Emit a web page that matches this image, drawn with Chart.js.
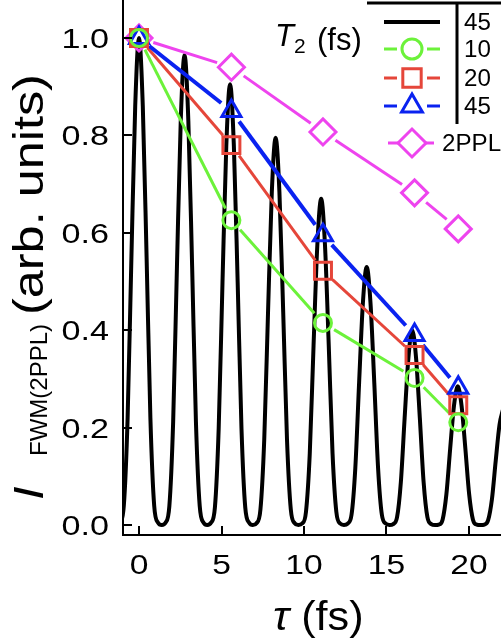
<!DOCTYPE html>
<html><head><meta charset="utf-8">
<script src="https://cdn.jsdelivr.net/npm/chart.js@4/dist/chart.umd.min.js"></script>
<style>html,body{margin:0;padding:0;background:#fff;}canvas{display:block;}</style>
</head><body>
<canvas id="c" width="501" height="640"></canvas>
<script>
// ---- data ----
const curveTau = [-1.38,-1.15,-0.92,-0.69,-0.46,-0.23,0,0.23,0.46,0.69,0.92,1.15,1.38,
1.61,1.84,2.07,2.30,2.53,2.76,2.99,3.22,3.45,3.68,3.91,4.14,
4.37,4.60,4.83,5.06,5.29,5.52,5.75,5.98,6.21,6.44,6.67,6.90,
7.13,7.36,7.59,7.82,8.05,8.28,8.51,8.74,8.97,9.20,9.43,9.66,
9.89,10.12,10.35,10.58,10.81,11.04,11.27,11.50,11.73,11.96,12.19,12.42,
12.65,12.88,13.11,13.34,13.57,13.80,14.03,14.26,14.49,14.72,14.95,15.18,
15.41,15.64,15.87,16.10,16.33,16.56,16.79,17.02,17.25,17.48,17.71,17.94,
18.17,18.40,18.63,18.86,19.09,19.32,19.55,19.78,20.01,20.24,20.47,20.70,
20.93,21.16,21.39,21.62,21.85,22.08];
const curveT45 = [0,0.005,0.04,0.22,0.55,0.86,1.0,0.86,0.55,0.22,0.04,0.005,0,
0.005,0.039,0.212,0.531,0.830,0.965,0.830,0.531,0.212,0.039,0.005,0,
0.005,0.036,0.199,0.498,0.778,0.905,0.778,0.498,0.199,0.036,0.005,0,
0.004,0.032,0.175,0.437,0.684,0.795,0.684,0.437,0.175,0.032,0.004,0,
0.003,0.027,0.147,0.369,0.576,0.67,0.576,0.369,0.147,0.027,0.003,0,
0.003,0.021,0.117,0.292,0.456,0.53,0.456,0.292,0.117,0.021,0.003,0,
0.002,0.016,0.088,0.22,0.344,0.40,0.344,0.22,0.088,0.016,0.002,0,
0.001,0.011,0.063,0.157,0.245,0.285,0.245,0.157,0.063,0.011,0.001,0,
0.001,0.010,0.053,0.132,0.206,0.24];
const tauPts = [0, 5.6, 11.15, 16.7, 19.35];
const fit10 = [1.0, 0.626, 0.415, 0.302, 0.211];
const fit20 = [1.0, 0.78, 0.522, 0.349, 0.246];
const fit45 = [1.0, 0.85, 0.595, 0.39, 0.282];
const ppl2  = [1.0, 0.94, 0.807, 0.682, 0.608];
const xTicks = [0, 5, 10, 15, 20];
const yTicks = [0, 0.2, 0.4, 0.6, 0.8, 1.0];
const seriesLabels = ['45', '10', '20', '45', '2PPL'];

// ---- styles ----
const FONT = '"Liberation Sans", Arial, sans-serif';
const COL = ['#000000', '#6CF23A', '#E5463A', '#0A22F0', '#EE44EE'];
const STYLE = [null, 'circle', 'rect', 'triangle', 'rectRot'];
const RAD = [0, 8.5, 12, 11, 13];
const LRAD = [0, 10, 13, 12, 14];
const GAP = [0, 13, 13, 13, 15];
const LW = [4, 3, 3, 4, 3];

const pts = (xs, ys) => xs.map((x, i) => ({x: x, y: ys[i]}));
const markerSet = (i, ys) => ({
  label: seriesLabels[i], data: pts(tauPts, ys), showLine: false,
  pointStyle: STYLE[i], pointRadius: RAD[i], pointHoverRadius: RAD[i],
  pointBorderWidth: 3, pointBorderColor: COL[i], borderColor: COL[i],
  pointBackgroundColor: 'rgba(0,0,0,0)', backgroundColor: 'rgba(0,0,0,0)',
  gap: GAP[i], order: i
});

function drawMarker(ctx, style, r, x, y, color) {
  ctx.save();
  ctx.strokeStyle = color; ctx.fillStyle = 'rgba(0,0,0,0)'; ctx.lineWidth = 3;
  if (Chart.helpers && Chart.helpers.drawPoint) {
    Chart.helpers.drawPoint(ctx, {pointStyle: style, radius: r, rotation: 0, borderWidth: 3}, x, y);
  }
  ctx.restore();
}
function sText(ctx, text, x, y, font, sx, align) {
  ctx.save();
  ctx.font = font; ctx.textAlign = align || 'left'; ctx.textBaseline = 'alphabetic';
  ctx.translate(x, y); ctx.scale(sx, 1);
  ctx.fillText(text, 0, 0);
  const w = ctx.measureText(text).width * sx;
  ctx.restore();
  return w;
}

const decor = {
  id: 'decor',
  afterDatasetDraw(chart, args) {
    if (args.index !== 0) return;
    const ctx = chart.ctx, ca = chart.chartArea;
    ctx.save();
    ctx.beginPath();
    ctx.rect(ca.left, ca.top, ca.right - ca.left, ca.bottom - ca.top);
    ctx.clip();
    for (let i = 1; i < chart.data.datasets.length; i++) {
      const ds = chart.data.datasets[i];
      const el = chart.getDatasetMeta(i).data;
      ctx.strokeStyle = COL[i]; ctx.lineWidth = LW[i]; ctx.lineCap = 'butt';
      for (let j = 0; j < el.length - 1; j++) {
        const a = el[j], b = el[j + 1];
        const dx = b.x - a.x, dy = b.y - a.y, d = Math.hypot(dx, dy);
        if (d <= 2 * ds.gap) continue;
        const ux = dx / d, uy = dy / d;
        ctx.beginPath();
        ctx.moveTo(a.x + ux * ds.gap, a.y + uy * ds.gap);
        ctx.lineTo(b.x - ux * ds.gap, b.y - uy * ds.gap);
        ctx.stroke();
      }
    }
    ctx.restore();
  },
  afterDraw(chart) {
    const ctx = chart.ctx, ca = chart.chartArea;
    const xs = chart.scales.x, ys = chart.scales.y;
    ctx.save();
    ctx.strokeStyle = '#000'; ctx.lineWidth = 2;
    // axes
    ctx.beginPath();
    ctx.moveTo(ca.left, 0); ctx.lineTo(ca.left, ca.bottom); ctx.lineTo(ca.right, ca.bottom);
    ctx.stroke();
    // inward ticks
    ctx.beginPath();
    xTicks.forEach(v => { const px = Math.round(xs.getPixelForValue(v)); ctx.moveTo(px, ca.bottom); ctx.lineTo(px, ca.bottom - 9); });
    yTicks.forEach(v => { const py = Math.round(ys.getPixelForValue(v)); ctx.moveTo(ca.left, py); ctx.lineTo(ca.left + 9, py); });
    ctx.stroke();

    ctx.fillStyle = '#000';
    // tick labels
    const TF = '28px ' + FONT;
    xTicks.forEach(v => sText(ctx, String(v), xs.getPixelForValue(v), 574, TF, 1.2, 'center'));
    yTicks.forEach(v => sText(ctx, v.toFixed(1), 109, ys.getPixelForValue(v) + 10, TF, 1.22, 'right'));

    // y title (rotated)
    ctx.save();
    ctx.translate(43, 500);
    ctx.rotate(-Math.PI / 2);
    sText(ctx, 'I', 0, 0, 'italic 42px ' + FONT, 1.15, 'left');
    sText(ctx, 'FWM(2PPL)', 44, 4, '24px ' + FONT, 1.0, 'left');
    sText(ctx, '(arb. units)', 185, 0, '42px ' + FONT, 1.2, 'left');
    ctx.restore();

    // x title
    const tw = sText(ctx, '\u03C4', 273, 630, 'italic 40px ' + FONT, 1.08, 'left');
    sText(ctx, '(fs)', 273 + tw + 12, 630, '40px ' + FONT, 1.08, 'left');

    // legend frame
    ctx.lineWidth = 3;
    ctx.beginPath();
    ctx.moveTo(367, 3); ctx.lineTo(501, 3);
    ctx.moveTo(457, 3); ctx.lineTo(457, 124);
    ctx.stroke();
    // legend title
    sText(ctx, 'T', 275, 46, 'italic 31px ' + FONT, 1.0, 'left');
    sText(ctx, '2', 294, 53, '21px ' + FONT, 1.0, 'left');
    sText(ctx, '(fs)', 317, 50, '31px ' + FONT, 1.0, 'left');
    // legend rows
    const rowY = [22, 49, 78, 106, 143];
    for (let i = 0; i < 5; i++) {
      const y = rowY[i];
      ctx.strokeStyle = COL[i]; ctx.lineWidth = i === 0 ? 4 : 3;
      ctx.beginPath();
      if (i === 0) { ctx.moveTo(384, y); ctx.lineTo(440, y); }
      else if (i < 4) { ctx.moveTo(384, y); ctx.lineTo(397, y); ctx.moveTo(427, y); ctx.lineTo(440, y); }
      else { ctx.moveTo(388, y); ctx.lineTo(398, y); ctx.moveTo(426, y); ctx.lineTo(434, y); }
      ctx.stroke();
      if (i > 0) drawMarker(ctx, STYLE[i], LRAD[i], 412, y, COL[i]);
      ctx.fillStyle = '#000';
      sText(ctx, seriesLabels[i], i === 4 ? 442 : 464, y + 8, '23px ' + FONT, 1.05, 'left');
    }
    ctx.restore();
  }
};

new Chart(document.getElementById('c'), {
  type: 'line',
  data: {
    datasets: [
      {label: seriesLabels[0], data: pts(curveTau, curveT45), borderColor: COL[0], borderWidth: 4,
       pointRadius: 0, pointHoverRadius: 0, cubicInterpolationMode: 'monotone', fill: false, order: 10},
      markerSet(1, fit10),
      markerSet(2, fit20),
      markerSet(3, fit45),
      markerSet(4, ppl2)
    ]
  },
  options: {
    responsive: false, animation: false, devicePixelRatio: 1,
    layout: {padding: 0, autoPadding: false},
    events: [],
    plugins: {legend: {display: false}, tooltip: {enabled: false}, title: {display: false}},
    scales: {
      x: {
        type: 'linear', min: -0.97, max: 21.94,
        afterBuildTicks: s => { s.ticks = xTicks.map(v => ({value: v})); },
        afterFit: s => { s.height = 105; s.paddingLeft = 0; s.paddingRight = 0; },
        grid: {display: false, drawTicks: false}, border: {display: false},
        ticks: {display: false}
      },
      y: {
        type: 'linear', min: -0.0205, max: 1.078,
        afterBuildTicks: s => { s.ticks = yTicks.map(v => ({value: v})); },
        afterFit: s => { s.width = 123; s.paddingTop = 0; s.paddingBottom = 0; },
        grid: {display: false, drawTicks: false}, border: {display: false},
        ticks: {display: false}
      }
    }
  },
  plugins: [decor]
});
</script>
</body></html>
